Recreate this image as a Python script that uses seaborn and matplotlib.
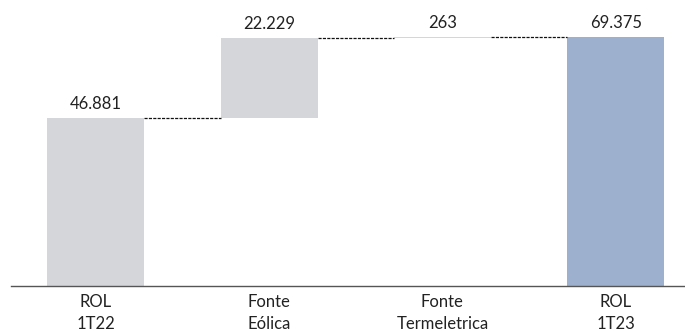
import numpy as np
import matplotlib
matplotlib.use('Agg')
import matplotlib.pyplot as plt
import seaborn as sns

categorias = ['ROL\n1T22', 'Fonte\nEólica', 'Fonte\nTermeletrica', 'ROL\n1T23']
valores = [46881, 22229, 263, 69375]
rotulos = ['46.881', '22.229', '263', '69.375']
tipo = ['total', 'delta', 'delta', 'total']
cores = ['#D5D6D9', '#D5D6D9', '#D5D6D9', '#9DB0CE']

# bases e topos da cascata
base = []
acum = 0
for v, t in zip(valores, tipo):
    if t == 'total':
        base.append(0)
        acum = v
    else:
        base.append(acum)
        acum += v
topo = [b + v for b, v in zip(base, valores)]

sns.set_style('white')
plt.rcParams['font.family'] = ['Lato', 'DejaVu Sans']

fig = plt.figure(figsize=(6.85, 3.31), dpi=100)
ax = fig.add_axes([0.016, 0.136, 0.984, 0.864])

largura = 0.56
sns.barplot(x=categorias, y=topo, hue=categorias, palette=cores, legend=False,
            width=largura, saturation=1, linewidth=0, ax=ax)
sns.barplot(x=categorias, y=base, color='white', width=largura, saturation=1,
            linewidth=0, ax=ax)

# conectores tracejados
for i in range(len(categorias) - 1):
    ax.hlines(topo[i], i + largura / 2, i + 1 - largura / 2, colors='#111111',
              linestyles=(0, (2.5, 1)), linewidth=0.9)

for i, r in enumerate(rotulos):
    ax.text(i, topo[i] + 1700, r, ha='center', va='bottom', fontsize=12, color='#222222')

ax.set_xlim(-0.49, 3.4)
ax.set_ylim(0, 79700)
ax.set_yticks([])
ax.tick_params(axis='x', length=0, labelsize=12, colors='#222222', pad=6)
for lbl in ax.get_xticklabels():
    lbl.set_linespacing(1.45)
for s in ['top', 'right', 'left']:
    ax.spines[s].set_visible(False)
ax.spines['bottom'].set_color('#555555')
ax.spines['bottom'].set_linewidth(1)

fig.savefig('out.png', dpi=100)
